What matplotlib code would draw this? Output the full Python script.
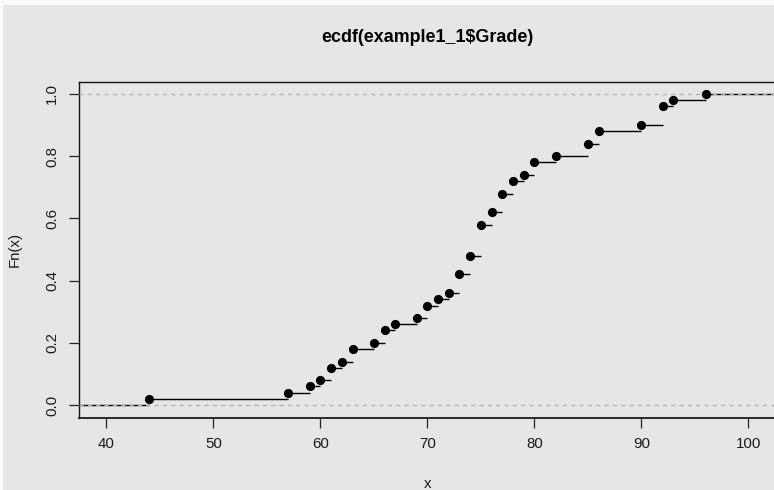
import numpy as np
import matplotlib
matplotlib.use("Agg")
import matplotlib.pyplot as plt
from matplotlib.patches import Rectangle

plt.rcParams['font.family'] = ['Liberation Sans', 'DejaVu Sans']

# Distinct grades and how many students got each
grades = [44, 57, 59, 60, 61, 62, 63, 65, 66, 67, 69, 70, 71, 72, 73, 74, 75,
          76, 77, 78, 79, 80, 82, 85, 86, 90, 92, 93, 96]
counts = [1, 1, 1, 1, 2, 1, 2, 1, 2, 1, 1, 2, 1, 1, 3, 3, 5,
          2, 3, 2, 1, 2, 1, 2, 2, 1, 3, 1, 1]
x_ticks = [40, 50, 60, 70, 80, 90, 100]
y_ticks = [0.0, 0.2, 0.4, 0.6, 0.8, 1.0]
y_ticklabels = ["0.0", "0.2", "0.4", "0.6", "0.8", "1.0"]
title = "ecdf(example1_1$Grade)"

knots = np.array(grades, dtype=float)
fn = np.cumsum(counts) / np.sum(counts)

W, H = 774, 490
fig = plt.figure(figsize=(W / 100, H / 100), dpi=100)
fig.patch.set_facecolor('#e6e6e6')
# thin light margin along the top and left edges
fig.patches.append(Rectangle((0, 1 - 5 / H), 1, 5 / H, transform=fig.transFigure,
                             facecolor='#fafafa', edgecolor='none', zorder=0))
fig.patches.append(Rectangle((0, 0), 3 / W, 1, transform=fig.transFigure,
                             facecolor='#fafafa', edgecolor='none', zorder=0))

left, right = 79, 775.8
top, bottom = 81.5, 417.6
ax = fig.add_axes([left / W, 1 - bottom / H, (right - left) / W, (bottom - top) / H])
ax.set_facecolor('#e6e6e6')

xlo, xhi = 37.43, 102.57
ax.set_xlim(xlo, xhi)
ax.set_ylim(-0.04, 1.04)

# horizontal steps of the empirical CDF
edges = np.concatenate([[xlo - 10], knots, [xhi + 10]])
levels = np.concatenate([[0.0], fn])
for i in range(len(levels)):
    ax.plot([edges[i], edges[i + 1]], [levels[i], levels[i]], color='black',
            lw=1.0, solid_capstyle='butt', zorder=2)

# reference lines at 0 and 1
for h in (0.0, 1.0):
    ax.axhline(h, color='#b3b3b3', lw=1.0, ls=(0, (3.0, 3.0)), zorder=3)

ax.plot(knots, fn, 'o', color='black', markersize=5.6, zorder=4)

ax.set_xticks(x_ticks)
ax.set_xticklabels([str(v) for v in x_ticks])
ax.set_yticks(y_ticks)
ax.set_yticklabels(y_ticklabels, rotation=90, va='center')
ax.tick_params(axis='both', length=7.2, width=0.9, color='#222222',
               labelsize=10.8, labelcolor='#1a1a1a')
ax.tick_params(axis='x', pad=7)
ax.tick_params(axis='y', pad=7)

for s in ax.spines.values():
    s.set_linewidth(1.0)
    s.set_color('#111111')
ax.spines['bottom'].set_linewidth(1.4)
ax.spines['bottom'].set_color('#2a2a2a')

fig.text((left + right) / 2 / W, 1 - 38 / H, title, ha='center', va='center',
         fontsize=12.9, fontweight='bold', color='black')
fig.text((left + right) / 2 / W, 1 - 484 / H, "x", ha='center', va='center',
         fontsize=10.8, color='#1a1a1a')
fig.text(15 / W, 1 - (top + bottom) / 2 / H, "Fn(x)", ha='center', va='center',
         rotation=90, fontsize=10.8, color='#1a1a1a')

fig.savefig("out.png", dpi=100, facecolor=fig.get_facecolor())
